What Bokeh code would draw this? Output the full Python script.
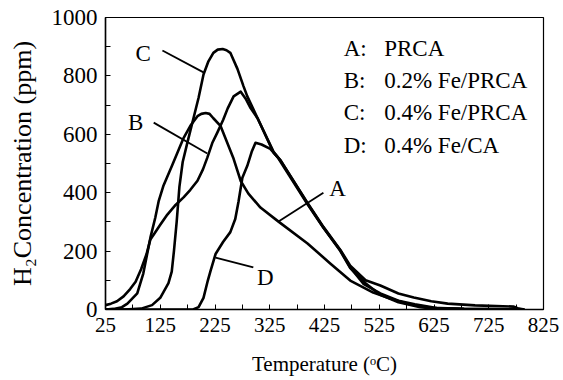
from bokeh.plotting import figure
from bokeh.models import FixedTicker
from bokeh.core.properties import value
from bokeh.embed import file_html
from bokeh.resources import INLINE

FONT = "Liberation Serif"

# ---- data ----
a_x = [25, 40, 55, 65, 83, 94, 107, 116, 122, 131, 147, 167, 180, 193, 200, 208, 215, 222, 235,
       259, 272, 286, 308, 341, 394, 436, 472, 514, 545, 580, 620, 680, 790]
a_y = [0, 2, 8, 20, 55, 123, 246, 315, 370, 425, 495, 585, 629, 662, 670, 673, 670, 655, 629,
       516, 440, 397, 349, 301, 226, 157, 99, 58, 38, 18, 6, 2, 0]

b_x = [25, 35, 46, 58, 70, 80, 90, 100, 107, 115, 125, 138, 153, 168, 180, 193, 203, 211, 220,
       229, 240, 248, 259, 272, 281, 290, 303, 332, 345, 394, 423, 454, 472, 496, 527, 560, 590,
       630, 680, 790]
b_y = [15, 20, 28, 45, 70, 95, 138, 190, 240, 262, 290, 325, 358, 385, 410, 441, 480, 520, 570,
       605, 650, 688, 730, 746, 722, 690, 654, 537, 510, 363, 281, 202, 144, 88, 55, 30, 18,
       5, 2, 0]

c_x = [25, 60, 90, 110, 125, 140, 146, 150, 155, 160, 166, 175, 185, 195, 204, 213, 222, 230,
       239, 246, 253, 266, 277, 284, 303, 332, 345, 394, 423, 454, 472, 500, 527, 560, 588, 620,
       650, 700, 770, 780, 790]
c_y = [0, 0, 3, 15, 40, 90, 130, 200, 300, 420, 505, 575, 650, 725, 805, 850, 879, 890, 892,
       888, 879, 824, 765, 730, 654, 540, 510, 365, 283, 204, 150, 100, 82, 55, 41, 28, 20, 14,
       10, 3, 0]

d_x = [25, 185, 195, 204, 212, 217, 226, 240, 253, 262, 268, 275, 284, 292, 299, 310, 326, 340,
       345, 394, 423, 454, 472, 500, 527, 560, 600, 630, 700, 790]
d_y = [0, 0, 8, 40, 100, 133, 190, 232, 265, 310, 370, 451, 492, 540, 571, 565, 550, 520, 505,
       360, 280, 200, 142, 90, 50, 25, 8, 2, 0, 0]

x_ticks = [25, 125, 225, 325, 425, 525, 625, 725, 825]
x_minor = [75, 175, 275, 375, 475, 575, 675, 775]
y_ticks = [0, 200, 400, 600, 800, 1000]
y_minor = [100, 300, 500, 700, 900]

legend_keys = ["A:", "B:", "C:", "D:"]
legend_names = ["PRCA", "0.2% Fe/PRCA", "0.4% Fe/PRCA", "0.4% Fe/CA"]
legend_y = [894, 784, 673, 562]

curve_labels = ["C", "B", "A", "D"]
label_x = [94, 80, 449, 317]
label_y = [877, 640, 414, 110]
lead_x0 = [129, 113, 423, 295]
lead_y0 = [887, 640, 400, 144]
lead_x1 = [204, 211, 341, 226]
lead_y1 = [812, 534, 301, 178]

p = figure(width=563, height=380, x_range=(25, 825), y_range=(0, 1000),
           output_backend="svg", toolbar_location=None,
           min_border_left=105, min_border_right=20, min_border_top=17, min_border_bottom=71)

p.background_fill_color = "white"
p.border_fill_color = "white"
p.outline_line_color = "black"
p.outline_line_width = 1.2
p.grid.visible = False

p.xaxis.ticker = FixedTicker(ticks=x_ticks, minor_ticks=x_minor)
p.yaxis.ticker = FixedTicker(ticks=y_ticks, minor_ticks=y_minor)

for ax in (p.xaxis[0], p.yaxis[0]):
    ax.axis_line_color = "black"
    ax.axis_line_width = 1.5
    ax.major_tick_in = 5
    ax.major_tick_out = 0
    ax.minor_tick_in = 5
    ax.minor_tick_out = 0
    ax.major_tick_line_color = "black"
    ax.minor_tick_line_color = "black"
    ax.major_label_text_font = FONT
    ax.major_label_text_color = "black"
    ax.axis_label_text_font = FONT
    ax.axis_label_text_font_style = "normal"
    ax.axis_label_text_color = "black"

p.xaxis.major_label_text_font_size = "21px"
p.yaxis.major_label_text_font_size = "23px"
p.xaxis.major_label_standoff = 8
p.yaxis.major_label_standoff = 8
p.xaxis.axis_label = "Temperature (ᵒC)"
p.yaxis.axis_label = "H₂Concentration (ppm)"
p.xaxis.axis_label_text_font_size = "21px"
p.yaxis.axis_label_text_font_size = "26px"
p.xaxis.axis_label_standoff = 17
p.yaxis.axis_label_standoff = 12

for xs, ys in ((a_x, a_y), (b_x, b_y), (c_x, c_y), (d_x, d_y)):
    p.line(xs, ys, line_color="black", line_width=2.6, line_join="round")

p.segment(x0=lead_x0, y0=lead_y0, x1=lead_x1, y1=lead_y1, line_color="black", line_width=1.8)

p.text(x=label_x, y=label_y, text=curve_labels, text_font=value(FONT),
       text_font_size="23px", text_align="center", text_baseline="middle", text_color="black")

p.text(x=[460] * 4, y=legend_y, text=legend_keys, text_font=value(FONT),
       text_font_size="23px", text_align="left", text_baseline="alphabetic", text_color="black")
p.text(x=[534] * 4, y=legend_y, text=legend_names, text_font=value(FONT),
       text_font_size="23px", text_align="left", text_baseline="alphabetic", text_color="black")

open("out.html", "w").write(file_html(p, INLINE))
